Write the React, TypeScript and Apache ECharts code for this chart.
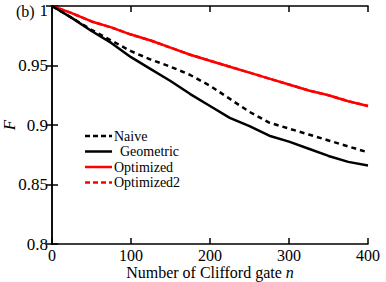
import React, { useEffect, useRef } from "react";
import * as echarts from "echarts";

const gates = [0, 25, 50, 75, 100, 125, 150, 175, 200, 225, 250, 275, 300, 325, 350, 375, 400];
const naive = [1.0, 0.99, 0.98, 0.971, 0.962, 0.955, 0.949, 0.942, 0.933, 0.922, 0.911, 0.902, 0.897, 0.892, 0.887, 0.882, 0.877];
const geometric = [1.0, 0.99, 0.979, 0.969, 0.957, 0.947, 0.937, 0.926, 0.916, 0.906, 0.899, 0.891, 0.886, 0.88, 0.874, 0.869, 0.866];
const optimized = [1.0, 0.994, 0.987, 0.982, 0.976, 0.971, 0.965, 0.959, 0.954, 0.949, 0.944, 0.939, 0.934, 0.929, 0.925, 0.92, 0.916];
const optimized2 = [1.0, 0.994, 0.987, 0.982, 0.976, 0.971, 0.965, 0.959, 0.954, 0.949, 0.944, 0.939, 0.934, 0.929, 0.925, 0.92, 0.916];
const seriesNames = ["Naive", "Geometric", "Optimized", "Optimized2"];
const legendColors = ["#000", "#000", "#ff0000", "#ff0000"];
const legendDashed = [true, false, false, true];

const FONT = "'Liberation Serif', serif";

export default function App() {
  const ref = useRef<HTMLDivElement>(null);
  useEffect(() => {
    if (!ref.current) return;
    const chart = echarts.init(ref.current, undefined, { renderer: "svg" });
    const pts = (vals: number[]) => gates.map((g, i) => [g, vals[i]]);
    const axisCommon = {
      axisLine: { show: true, lineStyle: { color: "#000", width: 1.5 } },
      axisTick: { show: true, inside: true, length: 6, lineStyle: { color: "#000", width: 1.5 } },
      splitLine: { show: false },
    };
    const legendGraphics: any[] = [];
    seriesNames.forEach((name, i) => {
      const y = 136 + i * 15.5;
      legendGraphics.push({
        type: "line",
        shape: { x1: 85, y1: y, x2: 112, y2: y },
        style: { stroke: legendColors[i], lineWidth: 2.5, lineDash: legendDashed[i] ? [5, 3] : null },
      });
      legendGraphics.push({
        type: "text",
        x: name === "Geometric" ? 120 : 114,
        y: y,
        style: {
          text: name,
          fontFamily: FONT,
          fontSize: 14,
          fill: "#000",
          verticalAlign: "middle",
          align: "left",
        },
      });
    });
    chart.setOption({
      animation: false,
      backgroundColor: "#fff",
      textStyle: { fontFamily: FONT },
      grid: { left: 52, top: 6, right: 18, bottom: 38, containLabel: false, outerBoundsMode: "none" },
      xAxis: [
        {
          type: "value",
          min: 0,
          max: 400,
          interval: 100,
          position: "bottom",
          ...axisCommon,
          axisLabel: { color: "#000", fontFamily: FONT, fontSize: 16, margin: 3 },
          name: "Number of Clifford gate {i|n}",
          nameLocation: "middle",
          nameGap: 20,
          nameMoveOverlap: false,
          nameTextStyle: {
            color: "#000",
            fontFamily: FONT,
            fontSize: 16,
            rich: { i: { fontStyle: "italic", fontFamily: FONT, fontSize: 16, color: "#000" } },
          },
        },
        {
          type: "value",
          min: 0,
          max: 400,
          interval: 100,
          position: "top",
          ...axisCommon,
          axisLabel: { show: false },
        },
      ],
      yAxis: [
        {
          type: "value",
          min: 0.8,
          max: 1,
          interval: 0.05,
          position: "left",
          ...axisCommon,
          axisLabel: {
            color: "#000",
            fontFamily: FONT,
            fontSize: 17,
            margin: 4,
            formatter: (v: number) => (v >= 0.999 ? "{t|1}" : String(parseFloat(v.toFixed(2)))),
            rich: { t: { fontFamily: FONT, fontSize: 17, color: "#000", padding: [8, 0, 0, 0] } },
          },
          name: "F",
          nameLocation: "middle",
          nameGap: 34,
          nameMoveOverlap: false,
          nameRotate: 90,
          nameTextStyle: { color: "#000", fontFamily: FONT, fontSize: 17, fontStyle: "italic" },
        },
        {
          type: "value",
          min: 0.8,
          max: 1,
          interval: 0.05,
          position: "right",
          ...axisCommon,
          axisLabel: { show: false },
        },
      ],
      graphic: [
        {
          type: "text",
          left: 16,
          top: 3,
          style: { text: "(b)", fontFamily: FONT, fontSize: 16, fill: "#000" },
        },
        ...legendGraphics,
      ],
      series: [
        {
          name: "Optimized2",
          type: "line",
          data: pts(optimized2),
          symbol: "none",
          lineStyle: { color: "#ff0000", width: 2.5, type: [5, 3] },
          itemStyle: { color: "#ff0000" },
          z: 1,
        },
        {
          name: "Optimized",
          type: "line",
          data: pts(optimized),
          symbol: "none",
          lineStyle: { color: "#ff0000", width: 2.5 },
          itemStyle: { color: "#ff0000" },
          z: 2,
        },
        {
          name: "Naive",
          type: "line",
          data: pts(naive),
          symbol: "none",
          lineStyle: { color: "#000", width: 2.5, type: [5, 4] },
          itemStyle: { color: "#000" },
          z: 2,
        },
        {
          name: "Geometric",
          type: "line",
          data: pts(geometric),
          symbol: "none",
          lineStyle: { color: "#000", width: 2.5 },
          itemStyle: { color: "#000" },
          z: 3,
        },
      ],
    });
    return () => chart.dispose();
  }, []);
  return <div ref={ref} style={{ width: 386, height: 282, position: "absolute", left: 0, top: 0 }} />;
}
